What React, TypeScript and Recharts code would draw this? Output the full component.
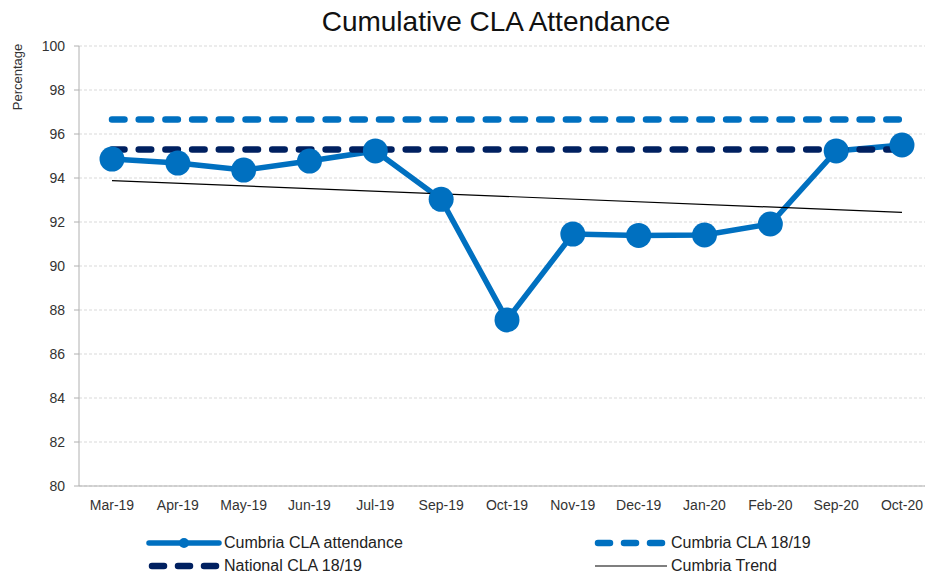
import React from "react";
import { LineChart, Line, XAxis, YAxis, CartesianGrid } from "recharts";

const months = ["Mar-19", "Apr-19", "May-19", "Jun-19", "Jul-19", "Sep-19", "Oct-19", "Nov-19", "Dec-19", "Jan-20", "Feb-20", "Sep-20", "Oct-20"];
const attendance = [94.86, 94.68, 94.36, 94.77, 95.23, 93.03, 87.55, 91.45, 91.39, 91.41, 91.91, 95.23, 95.5];
const cumbria1819 = [96.66, 96.66, 96.66, 96.66, 96.66, 96.66, 96.66, 96.66, 96.66, 96.66, 96.66, 96.66, 96.66];
const national1819 = [95.3, 95.3, 95.3, 95.3, 95.3, 95.3, 95.3, 95.3, 95.3, 95.3, 95.3, 95.3, 95.3];
const trend = [93.88, null, null, null, null, null, null, null, null, null, null, null, 92.44];
const yTicks = [80, 82, 84, 86, 88, 90, 92, 94, 96, 98, 100];

const data = months.map((m, i) => ({
  month: m,
  attendance: attendance[i],
  cumbria: cumbria1819[i],
  national: national1819[i],
  trend: trend[i],
}));

const FONT = "'Liberation Sans', Arial, sans-serif";
const BLUE = "#0070C0";
const NAVY = "#002060";

const LegendItem = ({ icon, label, left, top }: { icon: React.ReactNode; label: string; left: number; top: number }) => (
  <div style={{ position: "absolute", left, top, display: "flex", alignItems: "center", height: 20 }}>
    <svg width={76} height={20} style={{ display: "block" }}>{icon}</svg>
    <span style={{ fontFamily: FONT, fontSize: 16, color: "#222", marginLeft: 2, whiteSpace: "nowrap" }}>{label}</span>
  </div>
);

export default function App() {
  return (
    <div style={{ position: "fixed", left: 0, top: 0, width: 925, height: 579, overflow: "hidden", background: "#fff" }}>
      <div style={{ position: "absolute", left: 0, width: 992, top: 6, textAlign: "center", fontFamily: FONT, fontSize: 28, color: "#111" }}>
        Cumulative CLA Attendance
      </div>
      <div style={{ position: "absolute", left: 0, top: 0 }}>
        <LineChart width={945} height={579} data={data} margin={{ top: 46, right: 10, bottom: 63, left: 20 }}>
          <CartesianGrid vertical={false} stroke="#d9d9d9" strokeDasharray="3 2" />
          <XAxis
            dataKey="month"
            tickLine={false}
            tickSize={0}
            tickMargin={14}
            height={30}
            padding={{ left: 33, right: 33 }}
            stroke="#b0b0b0"
            tick={{ fill: "#333", fontSize: 14, fontFamily: FONT }}
            interval={0}
          />
          <YAxis
            domain={[80, 100]}
            ticks={yTicks}
            width={59}
            tickSize={5}
            tickMargin={9}
            stroke="#b0b0b0"
            tick={{ fill: "#333", fontSize: 14, fontFamily: FONT }}
            label={{
              content: () => (
                <text x={17} y={77} transform="rotate(-90 17 77)" textAnchor="middle" dominantBaseline="central" fontFamily={FONT} fontSize={13} fill="#333">
                  Percentage
                </text>
              ),
            }}
          />
          <Line dataKey="attendance" stroke={BLUE} strokeWidth={5.5} dot={{ r: 12.5, fill: BLUE, stroke: "none" }} isAnimationActive={false} />
          <Line dataKey="cumbria" stroke={BLUE} strokeWidth={6.5} strokeDasharray="12.5 14.2" strokeLinecap="round" dot={false} isAnimationActive={false} />
          <Line dataKey="national" stroke={NAVY} strokeWidth={6.5} strokeDasharray="12.5 14.2" strokeLinecap="round" dot={false} isAnimationActive={false} />
          <Line dataKey="trend" stroke="#000" strokeWidth={1.2} dot={false} connectNulls isAnimationActive={false} />
        </LineChart>
      </div>
      <LegendItem
        left={146}
        top={533}
        label="Cumbria CLA attendance"
        icon={<g><line x1={3} y1={10} x2={73} y2={10} stroke={BLUE} strokeWidth={5.5} strokeLinecap="round" /><circle cx={38} cy={10} r={5} fill={BLUE} /></g>}
      />
      <LegendItem
        left={146}
        top={556}
        label="National CLA 18/19"
        icon={<line x1={6} y1={10} x2={73} y2={10} stroke={NAVY} strokeWidth={6.5} strokeLinecap="round" strokeDasharray="12 14" />}
      />
      <LegendItem
        left={593}
        top={533}
        label="Cumbria CLA 18/19"
        icon={<line x1={5} y1={10} x2={73} y2={10} stroke={BLUE} strokeWidth={6.5} strokeLinecap="round" strokeDasharray="12 14" />}
      />
      <LegendItem
        left={593}
        top={556}
        label="Cumbria Trend"
        icon={<line x1={2} y1={10} x2={74} y2={10} stroke="#000" strokeWidth={1.2} />}
      />
    </div>
  );
}
